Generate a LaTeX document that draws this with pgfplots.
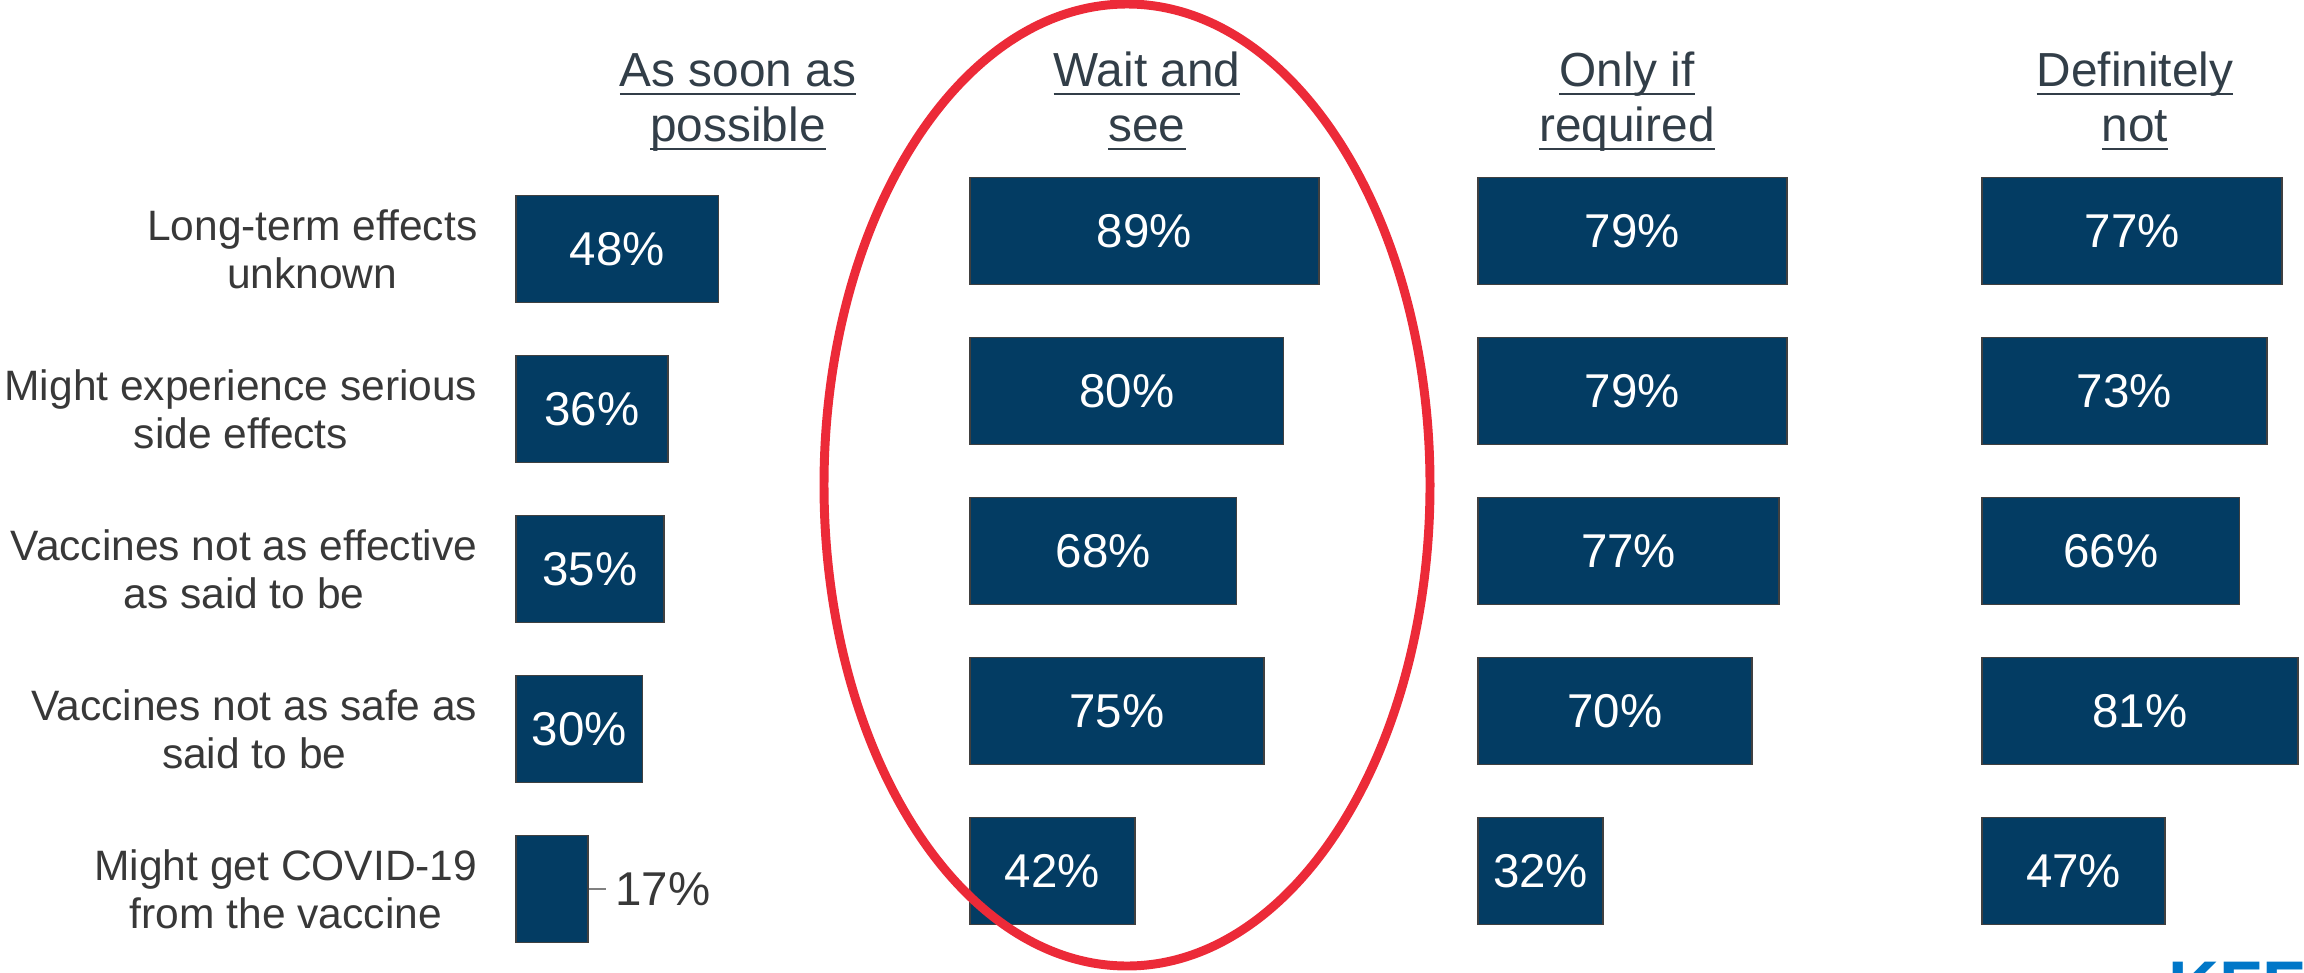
\documentclass[border=0pt]{standalone}
\usepackage{pgfplots}
\pgfplotsset{compat=1.18}
\usepackage{pgfplotstable}
\usepackage{fontspec}
\setmainfont{Liberation Sans}
\definecolor{barblue}{HTML}{033C63}
\definecolor{baredge}{HTML}{404040}
\definecolor{labgray}{HTML}{383838}
\definecolor{headcol}{HTML}{323E48}
\definecolor{ellred}{HTML}{EC2A38}
\definecolor{kffblue}{HTML}{0077C8}

% r = row (0 = top), v = percent
\pgfplotstableread{
r v
0 48
1 36
2 35
3 30
4 17
}\asap
\pgfplotstableread{
r v
0 48
1 36
2 35
3 30
}\asaplab
\pgfplotstableread{
r v
4 17
}\asapout
\pgfplotstableread{
r v
0 89
1 80
2 68
3 75
4 42
}\wait
\pgfplotstableread{
r v
0 79
1 79
2 77
3 70
4 32
}\onlyif
\pgfplotstableread{
r v
0 77
1 73
2 66
3 81
4 47
}\defnot

\newcommand\numfont{\fontsize{13.5}{16}\selectfont}
\newcommand\labfont{\fontsize{12.1}{13.7}\selectfont}
\newcommand\headfont{\fontsize{13.6}{15}\selectfont}
\newcommand\ul[1]{\leavevmode\setbox0\hbox{#1}\rlap{\rule[-2.4pt]{\wd0}{0.77pt}}\box0}

\pgfplotsset{
  panel/.style={scale only axis, height=8cm, xmin=0, xmax=100,
    ymin=-0.5, ymax=4.5, y dir=reverse, clip=false, anchor=north west,
    axis line style={draw=none}, tick style={draw=none},
    xtick=\empty, ytick=\empty, enlargelimits=false},
  barsty/.style={xbar, bar width=1.07cm, fill=barblue, draw=baredge, line width=0.5pt},
  labsty/.style={draw=none, mark=none, nodes near coords={\pgfplotspointmeta\%},
    point meta=explicit symbolic,
    every node near coord/.style={anchor=center, inner sep=0pt, text=white, font=\numfont}},
}

\begin{document}
\begin{tikzpicture}
% Panel 1: As soon as possible
\begin{axis}[panel, at={(5.16cm,-1.69cm)}, width=4.22cm,
  ytick={0,1,2,3,4},
  yticklabels={{Long-term effects\\unknown},{Might experience serious\\side effects},{Vaccines not as effective\\as said to be},{Vaccines not as safe as\\said to be},{Might get COVID-19\\from the vaccine}},
  yticklabel style={anchor=east, align=center, inner sep=0pt, xshift=-0.38cm, font=\labfont, text=labgray}]
  \addplot[barsty] table[x=v, y=r] {\asap};
  \addplot[labsty] table[x expr=\thisrow{v}/2, y=r, meta=v] {\asaplab};
  \addplot[draw=none, mark=none, nodes near coords={\pgfplotspointmeta\%},
    point meta=explicit symbolic,
    every node near coord/.style={anchor=west, inner sep=0pt, xshift=0.27cm, text=labgray, font=\numfont}]
    table[x=v, y=r, meta=v] {\asapout};
  \draw[gray, line width=0.6pt] (axis cs:17.4,4) -- (axis cs:21.3,4);
\end{axis}
% Panel 2: Wait and see
\begin{axis}[panel, at={(9.70cm,-1.51cm)}, width=3.92cm]
  \addplot[barsty] table[x=v, y=r] {\wait};
  \addplot[labsty] table[x expr=\thisrow{v}/2, y=r, meta=v] {\wait};
\end{axis}
% Panel 3: Only if required
\begin{axis}[panel, at={(14.78cm,-1.51cm)}, width=3.91cm]
  \addplot[barsty] table[x=v, y=r] {\onlyif};
  \addplot[labsty] table[x expr=\thisrow{v}/2, y=r, meta=v] {\onlyif};
\end{axis}
% Panel 4: Definitely not
\begin{axis}[panel, at={(19.82cm,-1.51cm)}, width=3.90cm]
  \addplot[barsty] table[x=v, y=r] {\defnot};
  \addplot[labsty] table[x expr=\thisrow{v}/2, y=r, meta=v] {\defnot};
\end{axis}

% Column headers
\begin{scope}[every node/.style={anchor=base, inner sep=0pt, font=\headfont, text=headcol}]
  \node at (7.38,-0.87) {\ul{As soon as}};
  \node at (7.38,-1.42) {\ul{possible}};
  \node at (11.47,-0.87) {\ul{Wait and}};
  \node at (11.47,-1.42) {\ul{see}};
  \node at (16.27,-0.87) {\ul{Only if}};
  \node at (16.27,-1.42) {\ul{required}};
  \node at (21.35,-0.87) {\ul{Definitely}};
  \node at (21.35,-1.42) {\ul{not}};
\end{scope}

% Red highlight ellipse
\draw[ellred, line width=2.55pt] (11.27,-4.85) ellipse [x radius=3.03, y radius=4.81];

% Logo (cut off at the bottom right)
\node[anchor=north west, inner sep=0pt, font=\bfseries\fontsize{20}{24}\selectfont, text=kffblue] at (21.68,-9.61) {KFF COVID-19};

\pgfresetboundingbox
\useasboundingbox (0,0) rectangle (23.04,-9.73);
\end{tikzpicture}
\end{document}
